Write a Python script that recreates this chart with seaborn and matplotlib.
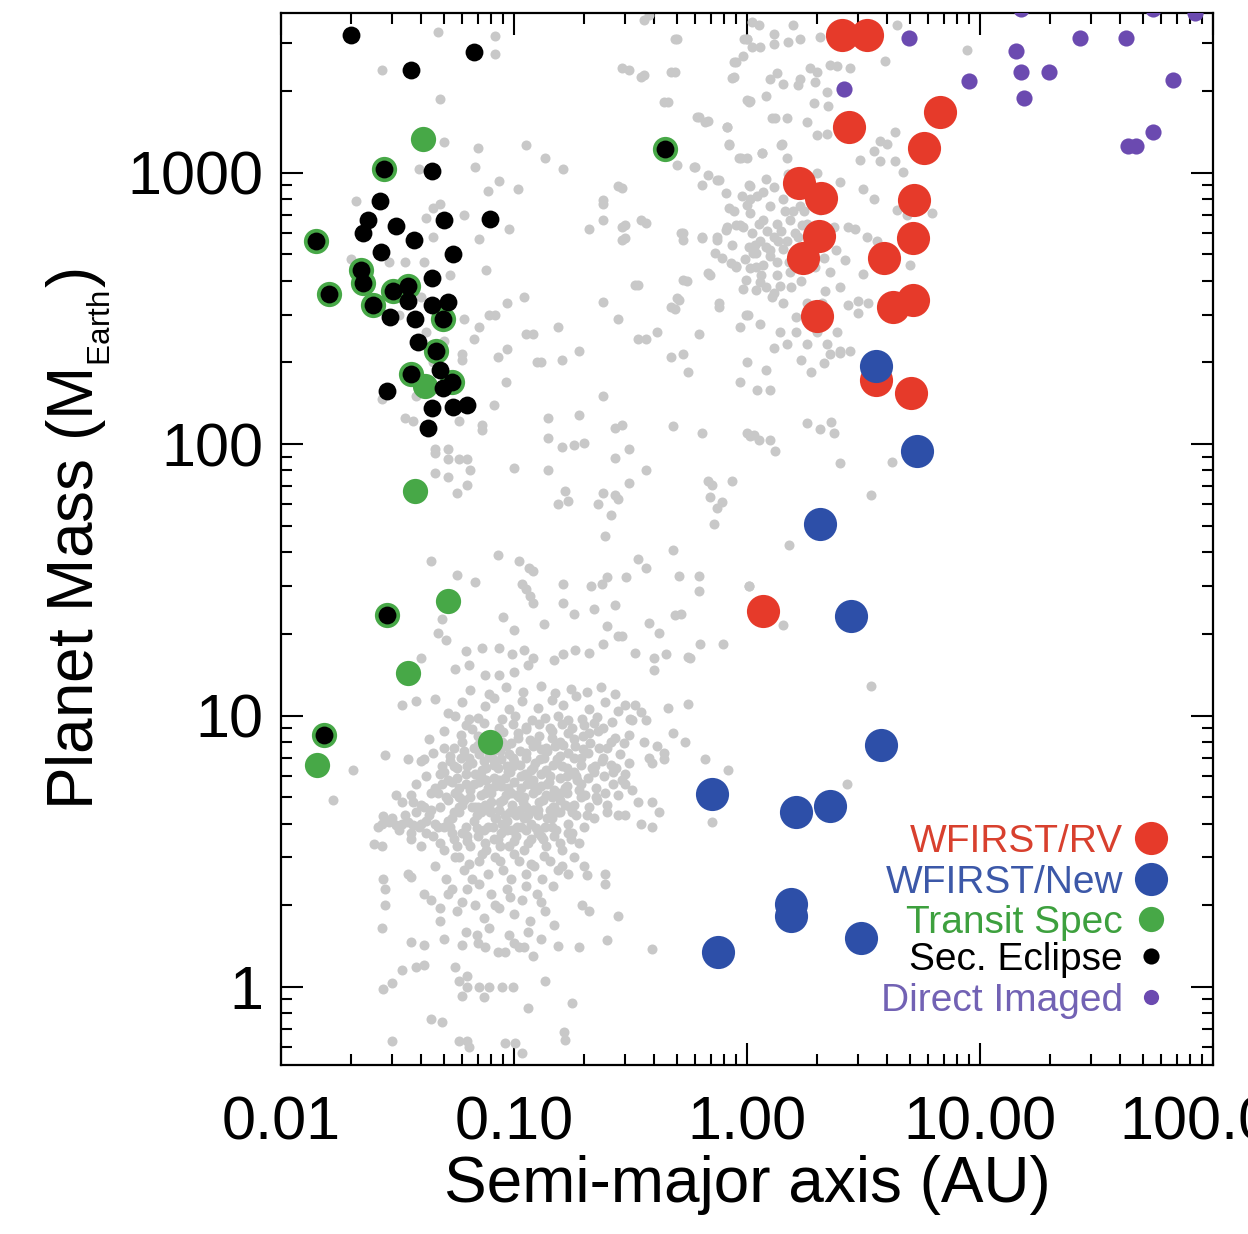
import matplotlib
matplotlib.use("Agg")
import matplotlib.pyplot as plt
from matplotlib.ticker import LogLocator, NullFormatter, FixedLocator, FixedFormatter
import seaborn as sns
import pandas as pd

# ---------------------------------------------------------------------------
# Known exoplanets (grey background), as (semi-major axis [AU], mass [M_Earth])
# ---------------------------------------------------------------------------
known_hot_giants = [
    (0.047, 3300), (0.083, 3200), (0.083, 2750), (0.027, 2400), (0.048, 1870),
    (0.05, 1300), (0.07, 1230), (0.068, 1050), (0.039, 1030), (0.086, 930),
    (0.077, 860), (0.021, 790), (0.048, 770), (0.045, 740), (0.042, 680),
    (0.061, 700), (0.071, 570), (0.095, 620), (0.045, 580), (0.02, 480),
    (0.029, 470), (0.034, 470), (0.041, 470), (0.053, 420), (0.076, 440),
    (0.093, 330), (0.078, 300), (0.083, 300), (0.061, 290), (0.071, 270),
    (0.067, 245), (0.042, 260), (0.06, 215), (0.06, 205), (0.085, 210),
    (0.093, 225), (0.092, 170), (0.082, 140), (0.073, 118), (0.073, 113),
    (0.058, 122), (0.034, 125), (0.037, 122), (0.027, 147), (0.046, 96),
    (0.052, 96), (0.052, 88), (0.058, 88), (0.063, 88), (0.065, 80),
    (0.046, 78), (0.052, 76), (0.057, 66), (0.063, 71), (0.033, 380),
    (0.04, 350), (0.05, 240), (0.045, 200), (0.055, 180), (0.038, 150),
    (0.032, 300), (0.046, 93),
]

known_warm_giants = [
    (0.113, 1267), (0.136, 1130), (0.162, 1030), (0.104, 870), (0.11, 350),
    (0.24, 335), (0.28, 290), (0.34, 245), (0.37, 245), (0.41, 260),
    (0.34, 385), (0.47, 210), (0.53, 215), (0.56, 185), (0.48, 117),
    (0.62, 255), (0.49, 315), (0.51, 340), (0.55, 400), (0.69, 420),
    (0.76, 320), (0.21, 620), (0.24, 670), (0.24, 770), (0.29, 880),
    (0.3, 640), (0.3, 575), (0.37, 655), (0.53, 600), (0.64, 580),
    (0.74, 580), (0.82, 630), (0.9, 640), (0.64, 900), (0.74, 940),
    (0.6, 1050), (0.5, 1070), (0.61, 1600), (0.68, 1550), (0.82, 1470),
    (0.84, 1280), (0.92, 1130), (0.46, 1820), (0.49, 2350), (0.49, 3100),
    (0.38, 3800), (0.31, 2400), (0.36, 2300), (0.88, 2550), (0.88, 2250),
    (1.0, 1850), (0.97, 3100), (1.05, 2900), (1.05, 3600), (0.113, 255),
    (0.12, 255), (0.155, 270), (0.125, 200), (0.13, 200), (0.16, 205),
    (0.19, 220), (0.14, 125), (0.19, 128), (0.14, 105), (0.16, 98),
    (0.18, 99), (0.2, 101), (0.24, 150), (0.27, 115), (0.29, 118),
    (0.27, 89), (0.31, 96), (0.37, 80), (0.64, 110), (1.0, 110),
    (1.07, 108), (0.1, 82), (0.14, 80), (0.165, 67), (0.17, 62),
    (0.155, 60), (0.24, 66), (0.23, 60), (0.27, 65), (0.28, 63),
    (0.31, 72), (0.68, 73), (0.71, 71), (0.86, 73), (0.69, 64),
    (0.78, 61), (0.74, 58), (0.26, 55),
]

known_inner_edge_giants = [
    (1.0, 3100), (0.897, 2560), (0.86, 2240), (1.02, 1830), (1.28, 1590),
    (0.82, 1480), (0.84, 1270), (1.16, 1185), (1.4, 1270), (0.94, 1135),
    (1.02, 904), (0.84, 743), (0.93, 644), (0.68, 983), (0.76, 943),
    (0.81, 844), (0.62, 1610), (0.66, 1540), (0.59, 1050), (0.52, 600),
    (0.53, 566), (0.64, 576), (0.74, 566), (0.81, 617), (0.73, 507),
    (0.78, 487), (0.85, 466), (0.9, 451), (0.68, 428), (1.02, 533),
    (1.09, 507), (1.2, 533), (1.09, 451), (0.99, 404), (1.09, 371),
    (1.2, 380), (1.31, 362), (0.53, 404), (0.5, 347), (0.47, 321),
    (0.33, 387), (0.99, 300), (0.76, 332), (0.28, 890), (0.24, 795),
    (0.29, 633), (0.35, 671), (0.29, 566), (0.35, 2250), (0.29, 2440),
    (0.47, 2350), (0.44, 1830), (0.5, 3100), (0.36, 3660),
]

known_cold_giants = [
    (1.12, 3500), (1.30, 3255), (1.58, 3500), (1.69, 3117), (1.50, 3027),
    (1.30, 2985), (1.0, 3117), (1.14, 2897), (0.96, 2692), (2.06, 3163),
    (2.27, 2500), (2.43, 2465), (2.77, 2428), (1.86, 2428), (1.99, 2359),
    (1.69, 2224), (1.34, 2323), (1.25, 2224), (1.43, 2130), (1.66, 2098),
    (1.96, 2161), (1.03, 1840), (1.21, 1922), (1.32, 1588), (1.48, 1588),
    (2.20, 1978), (2.23, 1760), (1.93, 1812), (1.80, 1543), (1.99, 1372),
    (2.20, 1392), (3.91, 2576), (4.39, 3505), (8.77, 2830), (3.72, 1313),
    (3.49, 1202), (4.32, 1413), (3.98, 1275), (3.05, 1117), (3.72, 1102),
    (4.32, 1102), (4.69, 1009), (1.41, 1275), (1.16, 1185), (1.0, 1134),
    (1.48, 1134), (2.51, 924), (3.16, 871), (3.49, 803), (2.72, 631),
    (2.91, 622), (3.26, 578), (3.60, 561), (4.39, 731), (4.85, 700),
    (6.2, 710), (5.0, 457), (2.63, 478), (3.16, 425), (2.51, 378),
    (2.16, 367), (2.72, 327), (3.0, 336), (3.32, 331), (3.0, 303),
    (1.01, 299), (1.39, 258), (1.63, 258), (1.99, 258), (2.43, 258),
    (1.80, 233), (2.20, 233), (2.27, 214), (2.51, 217), (2.77, 220),
    (2.13, 199), (1.0, 201), (1.21, 187), (0.93, 169), (1.10, 159),
    (1.26, 159), (1.8, 120), (2.06, 114), (2.3, 121), (2.35, 110),
    (1.03, 107), (1.12, 104), (1.25, 104), (1.32, 94), (2.5, 85),
    (3.4, 65), (4.2, 86),
    (1.03, 897), (1.17, 846), (1.30, 885), (1.03, 798), (1.25, 753),
    (1.43, 798), (1.58, 846), (1.69, 753), (1.03, 710), (1.17, 670),
    (1.34, 650), (1.53, 670), (0.96, 631), (1.14, 561), (1.30, 578),
    (1.48, 561), (1.06, 507), (1.25, 492), (1.43, 522), (1.66, 578),
    (1.03, 444), (1.17, 457), (1.34, 419), (1.53, 431), (1.14, 395),
    (1.39, 384), (0.96, 373), (1.66, 471), (1.80, 650), (1.93, 561),
    (2.13, 485), (2.27, 431), (2.06, 731), (2.35, 631), (1.43, 331),
    (1.80, 331), (1.63, 295), (1.99, 299), (0.93, 270), (1.14, 278),
    (1.30, 226), (1.48, 233), (1.71, 205), (1.89, 185), (2.51, 220),
    (1.2, 950), (1.1, 820), (1.45, 720), (1.6, 600), (1.25, 520),
    (1.05, 600), (1.35, 470), (0.98, 480), (1.9, 620), (2.2, 560),
    (1.15, 420), (1.7, 400), (1.95, 450), (2.4, 520), (1.55, 380),
    (1.28, 350), (2.1, 330), (1.0, 760), (1.12, 650), (1.4, 610),
    (1.62, 505), (1.8, 880), (2.0, 1000), (1.5, 990), (1.75, 720),
    (0.86, 540), (0.9, 455), (0.95, 820), (1.08, 540), (1.22, 610),
    (1.36, 560), (1.52, 470), (1.58, 720), (1.72, 640), (0.88, 720),
]

known_intermediate = [
    (0.085, 39), (0.044, 37), (0.105, 37), (0.116, 35), (0.12, 34),
    (0.057, 33), (0.068, 31), (0.108, 30.5), (0.112, 29.2), (0.117, 27.5),
    (0.12, 25.9), (0.163, 30.5), (0.213, 30), (0.239, 30.5), (0.251, 32.3),
    (0.301, 32.3), (0.246, 46), (0.34, 37.8), (0.37, 35), (0.48, 40.6),
    (0.51, 32.8), (0.62, 32.8), (0.62, 28.8), (0.72, 51), (1.02, 30),
    (0.163, 25.9), (0.18, 23.7), (0.22, 24.8), (0.27, 25.5), (0.09, 23),
    (0.1, 20.7), (0.134, 21.7), (0.25, 21.4), (0.29, 19.6), (0.38, 22),
    (0.42, 20.2), (0.49, 23.4), (0.52, 23.7), (0.047, 20.2), (0.051, 19),
    (0.049, 22.6), (0.63, 18.4), (0.79, 18.4), (0.33, 17), (0.40, 16.3),
    (0.45, 16.8), (0.57, 16.3), (0.062, 17.3), (0.073, 17.8), (0.086, 17.8),
    (0.098, 16.8), (0.11, 17.5), (0.12, 16.3), (0.04, 16.3), (0.148, 16),
    (0.163, 16.8), (0.183, 17.5), (0.21, 17), (0.24, 18.4), (0.28, 19.6),
    (0.40, 14.7), (0.56, 16.5), (0.056, 14.9), (0.064, 15.4), (0.075, 14.1),
    (0.086, 14.1), (0.10, 14.5), (0.115, 15.4), (0.033, 10.9), (0.038, 11.3),
    (0.46, 10.7), (0.56, 11), (0.48, 8.65), (0.54, 8.0), (0.66, 6.9),
    (0.83, 6.3), (0.028, 7.15), (0.035, 6.9), (0.041, 6.9), (0.0204, 6.3),
    (0.0167, 4.9), (0.031, 5.1), (0.0275, 4.27), (0.026, 3.9), (0.025, 3.36),
    (0.027, 3.3), (0.35, 4.0), (0.39, 3.9), (0.42, 4.4), (0.34, 4.8),
    (0.39, 4.8), (0.3, 4.3), (0.28, 4.3), (0.3, 5.6), (0.38, 7.0),
    (0.44, 6.9), (0.39, 6.7), (0.36, 8.0), (0.41, 7.7), (0.44, 7.3),
    (0.31, 8.5), (0.32, 9.6), (0.37, 9.6), (0.35, 10.3), (0.3, 10.9),
    (0.33, 10.9), (0.71, 4.05), (1.52, 42.4), (1.02, 29.9), (1.42, 21.6),
    (3.39, 12.9), (2.69, 5.6),
]

known_small_core = [
    # 9-12 M_Earth
    (0.046, 11.5), (0.052, 10.2), (0.056, 9.97), (0.06, 11.2), (0.064, 9.7),
    (0.07, 9.8), (0.075, 10.8), (0.082, 11.6), (0.089, 9.7), (0.095, 10.6),
    (0.101, 10.0), (0.108, 11.3), (0.119, 9.6), (0.127, 10.7), (0.136, 9.8),
    (0.145, 11.4), (0.155, 10.0), (0.163, 10.9), (0.171, 9.6), (0.185, 11.8),
    (0.196, 9.7), (0.21, 10.6), (0.228, 9.9), (0.245, 11.2), (0.262, 9.5),
    (0.28, 10.4), (0.313, 9.7),
    # 7.5-9
    (0.043, 8.2), (0.05, 8.8), (0.055, 7.6), (0.059, 8.5), (0.066, 8.9),
    (0.07, 7.8), (0.077, 8.4), (0.083, 7.5), (0.09, 8.7), (0.097, 7.9),
    (0.104, 8.3), (0.112, 8.9), (0.12, 7.7), (0.128, 8.4), (0.137, 7.6),
    (0.146, 8.8), (0.158, 8.0), (0.17, 8.6), (0.183, 7.7), (0.197, 8.4),
    (0.212, 7.9), (0.23, 8.8), (0.25, 7.6), (0.27, 8.3), (0.295, 7.9),
    # 6.3-7.5
    (0.04, 6.8), (0.045, 7.3), (0.049, 6.5), (0.053, 7.1), (0.057, 6.4),
    (0.061, 7.4), (0.066, 6.7), (0.071, 7.2), (0.076, 6.4), (0.081, 6.9),
    (0.087, 7.4), (0.093, 6.5), (0.099, 7.0), (0.106, 6.6), (0.113, 7.3),
    (0.121, 6.4), (0.129, 6.9), (0.138, 7.4), (0.147, 6.6), (0.157, 7.1),
    (0.168, 6.4), (0.18, 7.0), (0.193, 6.6), (0.207, 7.3), (0.222, 6.5),
    (0.24, 7.0), (0.26, 6.6), (0.285, 7.2), (0.31, 6.7),
    # 5.3-6.3
    (0.038, 5.6), (0.042, 6.0), (0.046, 5.4), (0.05, 6.2), (0.054, 5.7),
    (0.058, 5.4), (0.062, 6.1), (0.067, 5.6), (0.072, 6.0), (0.077, 5.4),
    (0.082, 5.9), (0.088, 5.5), (0.094, 6.2), (0.1, 5.7), (0.107, 5.4),
    (0.114, 6.0), (0.122, 5.5), (0.13, 6.1), (0.139, 5.6), (0.148, 5.3),
    (0.158, 5.9), (0.169, 5.5), (0.181, 6.2), (0.194, 5.6), (0.208, 5.9),
    (0.224, 5.4), (0.243, 6.0), (0.265, 5.6), (0.29, 5.8),
    # 4.5-5.3
    (0.033, 4.8), (0.036, 5.1), (0.04, 4.7), (0.044, 5.2), (0.048, 4.6),
    (0.052, 4.9), (0.056, 5.2), (0.06, 4.7), (0.065, 5.0), (0.07, 4.6),
    (0.075, 5.2), (0.08, 4.8), (0.086, 4.5), (0.092, 5.1), (0.098, 4.7),
    (0.105, 5.0), (0.112, 4.6), (0.12, 5.2), (0.128, 4.8), (0.137, 5.1),
    (0.147, 4.6), (0.157, 4.9), (0.168, 5.2), (0.18, 4.7), (0.194, 5.0),
    (0.21, 4.6), (0.228, 4.9), (0.25, 4.7),
    # 3.8-4.5
    (0.027, 4.0), (0.029, 4.05), (0.031, 3.95), (0.033, 4.0), (0.035, 4.05),
    (0.037, 3.95), (0.04, 4.0), (0.043, 4.3), (0.046, 4.0), (0.05, 3.9),
    (0.054, 4.2), (0.058, 4.4), (0.062, 3.9), (0.067, 4.1), (0.072, 4.4),
    (0.077, 3.9), (0.083, 4.2), (0.089, 4.0), (0.096, 4.4), (0.103, 3.9),
    (0.11, 4.2), (0.118, 4.0), (0.127, 4.3), (0.136, 3.9), (0.146, 4.2),
    (0.157, 4.4), (0.17, 4.0), (0.185, 4.3), (0.2, 3.9), (0.22, 4.2),
    # 3.1-3.8
    (0.036, 3.5), (0.04, 3.3), (0.045, 3.6), (0.05, 3.2), (0.055, 3.5),
    (0.06, 3.7), (0.065, 3.3), (0.07, 3.6), (0.076, 3.2), (0.082, 3.5),
    (0.088, 3.7), (0.095, 3.3), (0.102, 3.6), (0.11, 3.2), (0.118, 3.5),
    (0.127, 3.7), (0.137, 3.3), (0.148, 3.6), (0.16, 3.2), (0.175, 3.5),
    (0.19, 3.4),
    # 2.4-3.1
    (0.046, 2.8), (0.051, 2.5), (0.056, 3.0), (0.061, 2.7), (0.066, 2.5),
    (0.071, 2.9), (0.077, 2.6), (0.083, 3.0), (0.09, 2.7), (0.097, 2.5),
    (0.105, 2.9), (0.113, 2.6), (0.122, 2.8), (0.132, 2.5), (0.143, 2.9),
    (0.155, 2.7), (0.17, 2.6),
    # 1.7-2.4
    (0.052, 2.2), (0.057, 1.9), (0.063, 2.3), (0.068, 2.0), (0.074, 1.8),
    (0.08, 2.2), (0.086, 1.95), (0.093, 2.3), (0.1, 1.85), (0.108, 2.1),
    (0.117, 1.75), (0.126, 2.2), (0.136, 1.9), (0.147, 2.35),
    # 1.3-1.7
    (0.062, 1.6), (0.07, 1.45), (0.078, 1.65), (0.085, 1.35), (0.095, 1.55),
    (0.105, 1.4), (0.115, 1.6), (0.13, 1.5),
]

known_small_fill = [
    (0.048, 6.1), (0.051, 5.0), (0.053, 6.8), (0.055, 4.4), (0.057, 5.9),
    (0.059, 7.0), (0.061, 4.9), (0.063, 6.5), (0.065, 5.3), (0.067, 7.6),
    (0.069, 4.3), (0.071, 5.7), (0.073, 6.3), (0.075, 4.7), (0.078, 7.1),
    (0.08, 5.2), (0.082, 6.6), (0.084, 4.2), (0.086, 5.8), (0.088, 6.9),
    (0.09, 4.9), (0.092, 7.7), (0.094, 5.4), (0.096, 6.2), (0.098, 4.4),
    (0.1, 6.8), (0.103, 5.1), (0.106, 7.4), (0.109, 4.8), (0.111, 6.1),
    (0.114, 5.6), (0.117, 8.1), (0.12, 4.5), (0.123, 6.7), (0.126, 5.3),
    (0.13, 7.5), (0.133, 4.9), (0.137, 6.3), (0.141, 5.7), (0.145, 8.3),
    (0.149, 4.6), (0.153, 6.9), (0.158, 5.2), (0.163, 7.8), (0.168, 6.0),
    (0.174, 4.6), (0.18, 8.2), (0.187, 5.8), (0.194, 7.0), (0.202, 5.1),
    (0.21, 8.6), (0.22, 6.2), (0.232, 7.6), (0.245, 5.2), (0.26, 8.0),
    (0.275, 6.4),
    (0.044, 4.5), (0.047, 3.9), (0.049, 5.6), (0.052, 4.1), (0.054, 3.7),
    (0.058, 4.6), (0.063, 3.6), (0.068, 4.6), (0.074, 3.8), (0.079, 4.5),
    (0.085, 3.5), (0.091, 4.3), (0.098, 3.8), (0.106, 4.5), (0.113, 3.8),
    (0.122, 4.5), (0.131, 3.6), (0.142, 4.5), (0.152, 3.8), (0.165, 4.7),
    (0.178, 3.7),
    (0.03, 4.2), (0.032, 3.8), (0.034, 4.3), (0.036, 3.7), (0.038, 4.4),
    (0.039, 3.9), (0.042, 4.1), (0.041, 4.6), (0.037, 4.8),
    (0.062, 9.2), (0.074, 9.4), (0.086, 9.0), (0.099, 9.3), (0.113, 9.1),
    (0.128, 9.3), (0.142, 9.0), (0.16, 9.3), (0.178, 9.0), (0.2, 9.2),
    (0.22, 9.4), (0.24, 9.0),
    (0.065, 12.4), (0.078, 12.0), (0.092, 12.7), (0.109, 12.2), (0.13, 12.8),
    (0.15, 12.1), (0.175, 12.5), (0.205, 12.2), (0.235, 12.7), (0.27, 12.0),
    (0.058, 3.0), (0.064, 2.85), (0.073, 3.1), (0.087, 2.9), (0.1, 3.1),
    (0.118, 2.85), (0.135, 3.05), (0.16, 2.8), (0.18, 3.0),
    (0.054, 2.3), (0.06, 2.05), (0.071, 2.4), (0.083, 2.0), (0.096, 2.15),
    (0.112, 2.35), (0.13, 2.05),
]

known_small_dense = [
    (0.047, 5.2), (0.05, 7.6), (0.052, 5.8), (0.055, 6.5), (0.058, 5.0),
    (0.06, 8.0), (0.062, 5.6), (0.064, 7.0), (0.066, 4.6), (0.068, 6.1),
    (0.07, 8.4), (0.072, 5.1), (0.074, 6.8), (0.076, 5.8), (0.079, 4.4),
    (0.081, 7.4), (0.083, 5.5), (0.085, 6.4), (0.087, 4.8), (0.089, 8.0),
    (0.091, 5.9), (0.093, 4.1), (0.095, 7.2), (0.097, 5.2), (0.099, 6.5),
    (0.102, 4.3), (0.104, 8.6), (0.107, 6.0), (0.11, 5.0), (0.112, 7.0),
    (0.115, 4.3), (0.118, 6.3), (0.121, 5.8), (0.124, 8.0), (0.127, 4.5),
    (0.13, 5.5), (0.134, 7.0), (0.138, 4.2), (0.142, 6.0), (0.146, 5.0),
    (0.15, 7.7), (0.155, 4.4), (0.16, 6.5), (0.165, 5.4), (0.171, 7.3),
    (0.177, 4.4), (0.184, 6.0), (0.19, 5.3), (0.198, 7.5), (0.205, 4.3),
    (0.215, 6.4), (0.225, 5.0), (0.238, 6.8), (0.25, 4.4), (0.265, 6.2),
    (0.28, 5.1), (0.3, 6.1), (0.32, 5.3),
    (0.042, 3.7), (0.048, 3.4), (0.053, 3.9), (0.057, 3.3), (0.063, 3.45),
    (0.069, 3.85), (0.075, 3.4), (0.081, 3.9), (0.087, 3.3), (0.093, 3.8),
    (0.1, 3.45), (0.107, 3.9), (0.115, 3.4), (0.124, 3.85), (0.133, 3.5),
    (0.145, 3.9), (0.158, 3.4), (0.17, 3.7),
]

known_low_mass = [
    (0.0275, 0.98), (0.030, 1.03), (0.03, 0.63), (0.033, 1.15), (0.038, 1.18),
    (0.041, 1.2), (0.044, 0.76), (0.049, 0.74), (0.058, 1.05), (0.06, 0.93),
    (0.063, 1.0), (0.058, 0.63), (0.063, 0.63), (0.071, 1.0), (0.078, 1.0),
    (0.089, 1.0), (0.099, 1.0), (0.074, 0.92), (0.091, 0.62), (0.101, 0.62),
    (0.108, 0.57), (0.064, 0.6), (0.115, 0.84), (0.136, 1.05), (0.177, 0.87),
    (0.164, 0.68), (0.166, 0.64), (0.148, 1.69), (0.155, 1.41), (0.19, 1.4),
    (0.25, 1.49), (0.28, 1.83), (0.39, 1.38), (0.12, 1.3), (0.1, 1.45),
    (0.11, 1.4), (0.091, 1.35), (0.075, 1.4), (0.069, 1.55), (0.056, 1.18),
    (0.063, 1.1), (0.048, 1.95), (0.048, 1.75), (0.041, 2.2), (0.044, 2.1),
    (0.036, 1.47), (0.041, 1.43), (0.05, 1.5), (0.06, 1.43), (0.0275, 2.5),
    (0.028, 2.3), (0.028, 2.0), (0.027, 1.65), (0.035, 2.6), (0.036, 2.55),
    (0.2, 2.8), (0.205, 2.58), (0.246, 2.6), (0.246, 2.4), (0.21, 1.9),
    (0.195, 2.0),
]

# ---------------------------------------------------------------------------
# Highlighted samples
# ---------------------------------------------------------------------------
wfirst_rv = [
    (2.56, 3224), (3.28, 3224), (2.75, 1476), (6.70, 1679), (5.77, 1236),
    (1.67, 919), (2.08, 809), (5.23, 795), (2.04, 586), (5.17, 576),
    (1.74, 487), (3.88, 487), (4.25, 321), (5.18, 339), (2.0, 297),
    (3.56, 173), (5.07, 155), (1.17, 24.2),
]

wfirst_new = [
    (3.56, 194.5), (5.38, 94), (2.06, 50.6), (2.80, 23.2), (3.77, 7.82),
    (0.706, 5.12), (1.62, 4.43), (2.28, 4.66), (1.55, 2.03), (1.55, 1.82),
    (3.09, 1.52), (0.75, 1.35),
]

transit_spec = [
    (0.0408, 1330), (0.0277, 1034), (0.443, 1225), (0.0141, 560), (0.0160, 359),
    (0.0221, 437), (0.0224, 394), (0.0249, 327), (0.0303, 367), (0.0352, 384),
    (0.0497, 290), (0.0464, 220), (0.0362, 182), (0.0415, 164), (0.0539, 169),
    (0.0376, 67.4), (0.0519, 26.4), (0.0284, 23.4), (0.0352, 14.3), (0.0153, 8.51),
    (0.0142, 6.56), (0.0785, 7.98),
]

sec_eclipse = [
    (0.0277, 1034), (0.443, 1225), (0.0141, 560), (0.0160, 359), (0.0221, 437),
    (0.0224, 394), (0.0249, 327), (0.0303, 367), (0.0352, 384), (0.0497, 290),
    (0.0464, 220), (0.0362, 182), (0.0539, 169), (0.0284, 23.4), (0.0153, 8.51),
    (0.0199, 3206), (0.0674, 2781), (0.0361, 2400), (0.0443, 1014), (0.0266, 784),
    (0.0790, 677), (0.0235, 667), (0.0224, 602), (0.0311, 635), (0.0501, 671),
    (0.0373, 565), (0.0268, 511), (0.0549, 502), (0.0443, 410), (0.0352, 336),
    (0.0443, 327), (0.0523, 333), (0.0294, 294), (0.0376, 290), (0.0388, 238),
    (0.0482, 187), (0.0284, 157), (0.0497, 161), (0.0443, 136), (0.0549, 137),
    (0.0627, 140), (0.0426, 115),
]

direct_imaged = [
    (4.97, 3150), (2.60, 2036), (14.3, 2812), (15.0, 2348), (19.8, 2348),
    (15.5, 1884), (9.0, 2184), (26.8, 3150), (42.5, 3150), (67.5, 2192),
    (55.4, 1416), (43.2, 1251), (46.9, 1251), (15.0, 4000), (55.0, 4000),
    (84.0, 3880),
]

legend_labels = ["WFIRST/RV", "WFIRST/New", "Transit Spec", "Sec. Eclipse", "Direct Imaged"]

x_tick_values = [0.01, 0.1, 1.0, 10.0, 100.0]
x_tick_labels = ["0.01", "0.10", "1.00", "10.00", "100.00"]
y_tick_values = [1, 10, 100, 1000]
y_tick_labels = ["1", "10", "100", "1000"]


def frame(points):
    return pd.DataFrame(points, columns=["a", "mass"])


sns.set_style("ticks")
plt.rcParams["font.family"] = ["Liberation Sans", "DejaVu Sans"]
plt.rcParams["mathtext.fontset"] = "custom"
plt.rcParams["mathtext.rm"] = "Liberation Sans"
plt.rcParams["text.color"] = "black"
plt.rcParams["axes.labelcolor"] = "black"
plt.rcParams["xtick.color"] = "black"
plt.rcParams["ytick.color"] = "black"

fig = plt.figure(figsize=(12.48, 12.34), dpi=100)
ax = fig.add_axes([0.2252, 0.1370, 0.7468, 0.8525])
ax.set_xscale("log")
ax.set_yscale("log")

GRAY = "#c8c8c8"
RED = "#e63a2a"
BLUE = "#2d4fa8"
GREEN = "#47a847"
BLACK = "#000000"
PURPLE = "#6b4ab0"

background = pd.concat([frame(known_hot_giants), frame(known_warm_giants),
                        frame(known_inner_edge_giants), frame(known_cold_giants),
                        frame(known_intermediate), frame(known_small_core),
                        frame(known_small_fill), frame(known_small_dense),
                        frame(known_low_mass)])
sns.scatterplot(data=background, x="a", y="mass", color=GRAY, s=52,
                linewidth=0, ax=ax, zorder=2)

layers = [
    (wfirst_rv, RED, 570, 3),
    (wfirst_new, BLUE, 570, 4),
    (transit_spec, GREEN, 330, 5),
    (sec_eclipse, BLACK, 165, 6),
    (direct_imaged, PURPLE, 135, 7),
]
for pts, col, size, z in layers:
    sns.scatterplot(data=frame(pts), x="a", y="mass", color=col, s=size,
                    linewidth=0, ax=ax, zorder=z)

ax.set_xlim(0.01, 100)
ax.set_ylim(0.516, 3880)

ax.xaxis.set_major_locator(FixedLocator(x_tick_values))
ax.xaxis.set_major_formatter(FixedFormatter(x_tick_labels))
ax.yaxis.set_major_locator(FixedLocator(y_tick_values))
ax.yaxis.set_major_formatter(FixedFormatter(y_tick_labels))
for axis in (ax.xaxis, ax.yaxis):
    axis.set_minor_locator(LogLocator(base=10, subs=range(2, 10), numticks=20))
    axis.set_minor_formatter(NullFormatter())

ax.tick_params(which="both", direction="in", top=True, right=True,
               width=1.5, color="black")
ax.tick_params(which="major", length=16)
ax.tick_params(which="minor", length=8)
ax.tick_params(axis="x", which="major", labelsize=44, pad=22)
ax.tick_params(axis="y", which="major", labelsize=44, pad=13)
for sp in ax.spines.values():
    sp.set_linewidth(1.6)
    sp.set_color("black")

ax.set_xlabel("Semi-major axis (AU)", fontsize=46, labelpad=2)
ax.set_ylabel(r"Planet Mass (M$_{{}_{\mathregular{Earth}}}$)", fontsize=46, labelpad=10)

# legend: coloured labels with their marker to the right
legend_text_colors = ["#d8402e", "#3c58a8", "#3da03e", "#000000", "#7262b4"]
legend_marker_colors = [RED, BLUE, GREEN, BLACK, PURPLE]
legend_sizes = [570, 570, 330, 135, 120]
legend_baselines = [0.2025, 0.1635, 0.1255, 0.0903, 0.0513]
legend_centres = [0.2158, 0.1768, 0.1388, 0.1036, 0.0646]
for lab, tc, mc, ms, yb, yc in zip(legend_labels, legend_text_colors, legend_marker_colors,
                                   legend_sizes, legend_baselines, legend_centres):
    ax.text(0.9034, yb, lab, transform=ax.transAxes, ha="right", va="baseline",
            fontsize=28, color=tc, zorder=10)
    ax.scatter([0.9335], [yc], transform=ax.transAxes, s=ms, color=mc,
               linewidths=0, zorder=10, clip_on=False)

fig.savefig("out.png", dpi=100)
